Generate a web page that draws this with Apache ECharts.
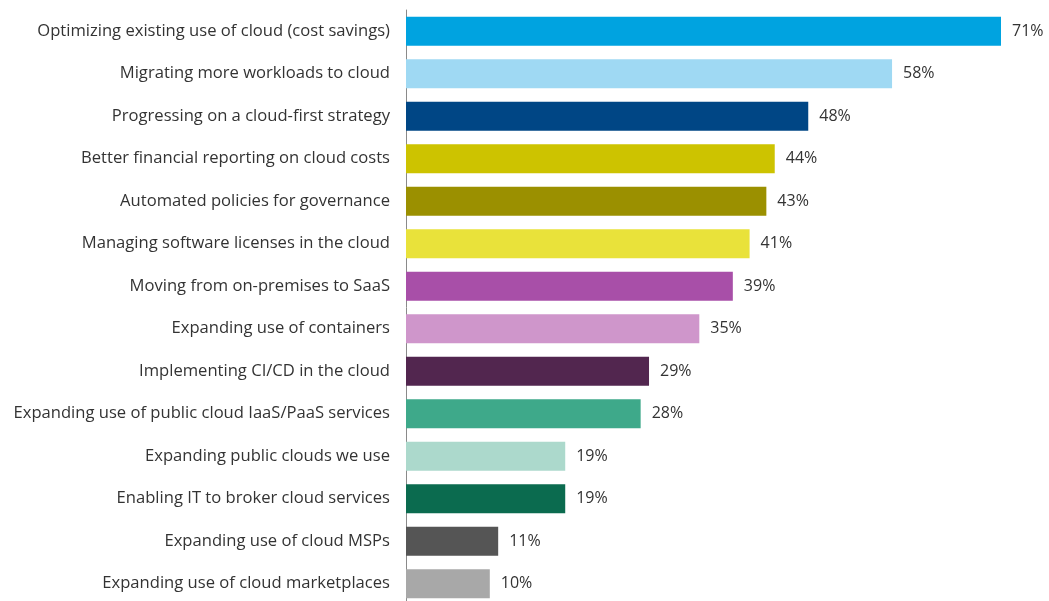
<!DOCTYPE html>
<html>
<head>
<meta charset="utf-8">
<script src="https://cdn.jsdelivr.net/npm/echarts@6/dist/echarts.min.js"></script>
<style>
  html, body { margin: 0; padding: 0; background: #ffffff; overflow: hidden; }
  #chart { width: 1049px; height: 612px; }
</style>
</head>
<body>
<div id="chart"></div>
<script>
let categories = [
  'Optimizing existing use of cloud (cost savings)',
  'Migrating more workloads to cloud',
  'Progressing on a cloud-first strategy',
  'Better financial reporting on cloud costs',
  'Automated policies for governance',
  'Managing software licenses in the cloud',
  'Moving from on-premises to SaaS',
  'Expanding use of containers',
  'Implementing CI/CD in the cloud',
  'Expanding use of public cloud IaaS/PaaS services',
  'Expanding public clouds we use',
  'Enabling IT to broker cloud services',
  'Expanding use of cloud MSPs',
  'Expanding use of cloud marketplaces'
];
let values = [71, 58, 48, 44, 43, 41, 39, 35, 29, 28, 19, 19, 11, 10];
let barColors = [
  '#00a3e0', '#9fd9f3', '#004685', '#cdc300', '#9b9000', '#e9e23a', '#a84fa8',
  '#cf96cb', '#52264f', '#3ea98a', '#acd9cc', '#0b6b4f', '#555555', '#a8a8a8'
];

let fontName = 'Open Sans';
let chart = echarts.init(document.getElementById('chart'));

let barData = values.map((v, i) => ({
  value: v,
  itemStyle: { color: barColors[i] }
}));

let option = {
  animation: false,
  // chart div is taller than the window so the last row sits at the very bottom
  grid: { left: 406, right: 48, top: 10, height: 595 },
  xAxis: {
    type: 'value',
    min: 0,
    max: 71,
    show: false
  },
  yAxis: {
    type: 'category',
    inverse: true,
    data: categories,
    axisLine: { show: true, lineStyle: { color: '#8a8a8a', width: 1 } },
    axisTick: { show: false },
    axisLabel: {
      margin: 16,
      color: '#333333',
      fontFamily: fontName,
      fontSize: 16.6,
      padding: [4, 0, 0, 0]
    }
  },
  series: [{
    type: 'bar',
    data: barData,
    barWidth: 29,
    label: {
      show: true,
      position: 'right',
      distance: 11,
      formatter: '{c}%',
      color: '#333333',
      fontFamily: fontName,
      fontSize: 16
    }
  }]
};
chart.setOption(option);
</script>
</body>
</html>
